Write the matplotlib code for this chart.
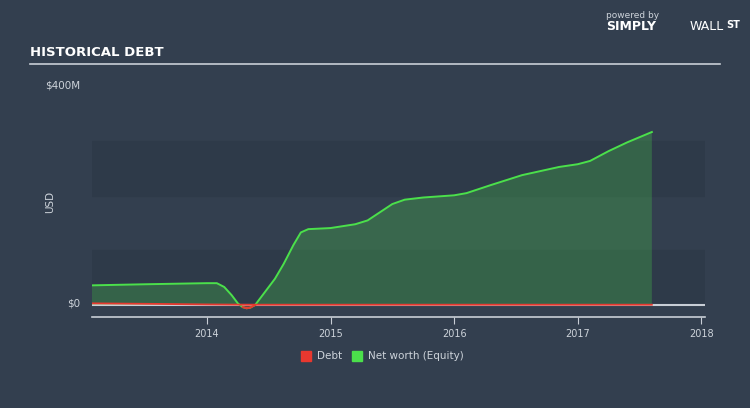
import matplotlib.pyplot as plt
import numpy as np

# net worth (equity), USD millions
nw_years = [2013.07, 2013.5, 2014.0, 2014.08, 2014.14, 2014.2, 2014.25, 2014.29, 2014.32, 2014.35,
            2014.39, 2014.45, 2014.55, 2014.62, 2014.7, 2014.76, 2014.82, 2015.0, 2015.2, 2015.3,
            2015.4, 2015.5, 2015.6, 2015.75, 2016.0, 2016.1, 2016.3, 2016.55, 2016.85,
            2017.0, 2017.1, 2017.25, 2017.4, 2017.6]
nw_vals = [36, 38, 40, 40, 33, 18, 3, -4, -6, -5,
           0, 18, 48, 75, 110, 133, 139, 141, 148, 155,
           170, 185, 193, 197, 201, 205, 220, 238, 253,
           258, 264, 282, 298, 317]

# debt, USD millions
debt_years = [2013.07, 2013.6, 2014.0, 2014.33, 2015.0, 2016.0, 2017.0, 2017.6]
debt_vals = [3, 2, 1, 0.5, 0.5, 0.5, 0.5, 0.5]

year_ticks = [2014, 2015, 2016, 2017, 2018]

bg = '#333f4f'
band = '#2e3a49'
green = '#4be04b'
red = '#e8382f'
txt = '#cdd3da'

fig = plt.figure(figsize=(7.5, 4.08), dpi=100, facecolor=bg)
ax = fig.add_axes([92/750, (408-317)/408, (705-92)/750, 233/408])
ax.set_facecolor(bg)
ax.set_xlim(2013.07, 2018.03)
ax.set_ylim(-22, 405)

ax.axhspan(0, 100, color=band, zorder=0)
ax.axhspan(200, 300, color=band, zorder=0)
ax.axhline(0, color='#c8ced6', lw=1.5, zorder=1)

x = np.array(nw_years)
y = np.array(nw_vals)
ax.fill_between(x, 0, y, where=y >= 0, color=green, alpha=0.25, lw=0, zorder=2, interpolate=True)
ax.fill_between(x, 0, y, where=y < 0, color=red, alpha=0.3, lw=0, zorder=2, interpolate=True)
ax.plot(x, y, color=green, lw=1.4, zorder=3)
neg = np.ma.masked_where(y > 0, y)
ax.plot(x, neg, color=red, lw=1.4, zorder=4)
ax.plot(debt_years, debt_vals, color=red, lw=1.3, zorder=4)

for s in ['top', 'right', 'left']:
    ax.spines[s].set_visible(False)
ax.spines['bottom'].set_color('#c8ced6')
ax.spines['bottom'].set_linewidth(1.2)
ax.set_xticks(year_ticks)
ax.set_xticklabels([str(t) for t in year_ticks])
ax.tick_params(axis='x', colors='#c8ced6', labelcolor=txt, labelsize=7, length=5, direction='out')
ax.set_yticks([])

fig.text(80/750, 1-303/408, '$0', color=txt, fontsize=7.5, ha='right', va='center')
fig.text(80/750, 1-85/408, '$400M', color=txt, fontsize=7.5, ha='right', va='center')
fig.text(50/750, 1-202/408, 'USD', color=txt, fontsize=7.5, rotation=90, ha='center', va='center')

fig.text(30/750, 1-53/408, 'HISTORICAL DEBT', color='white', fontsize=9.5, fontweight='bold',
         family=['Liberation Sans Narrow', 'DejaVu Sans'], ha='left', va='center')
fig.add_artist(plt.Line2D([30/750, 720/750], [1-64/408, 1-64/408], color='#c8ced6', lw=1.2))

fig.text(606/750, 1-15/408, 'powered by', color=txt, fontsize=6.5, ha='left', va='center')
fig.text(606/750, 1-27/408, 'SIMPLY', color='white', fontsize=9, fontweight='bold', ha='left', va='center')
fig.text(690/750, 1-27/408, 'WALL', color='white', fontsize=9, ha='left', va='center')
fig.text(726/750, 1-25/408, 'ST', color='white', fontsize=7, fontweight='bold', ha='left', va='center')

# legend
fig.patches.append(plt.Rectangle((301/750, 1-361/408), 10/750, 10/408, color=red, transform=fig.transFigure))
fig.text(317/750, 1-356/408, 'Debt', color=txt, fontsize=7.5, ha='left', va='center')
fig.patches.append(plt.Rectangle((352/750, 1-361/408), 10/750, 10/408, color=green, transform=fig.transFigure))
fig.text(368/750, 1-356/408, 'Net worth (Equity)', color=txt, fontsize=7.5, ha='left', va='center')

fig.savefig('out.png', dpi=100, facecolor=bg)
